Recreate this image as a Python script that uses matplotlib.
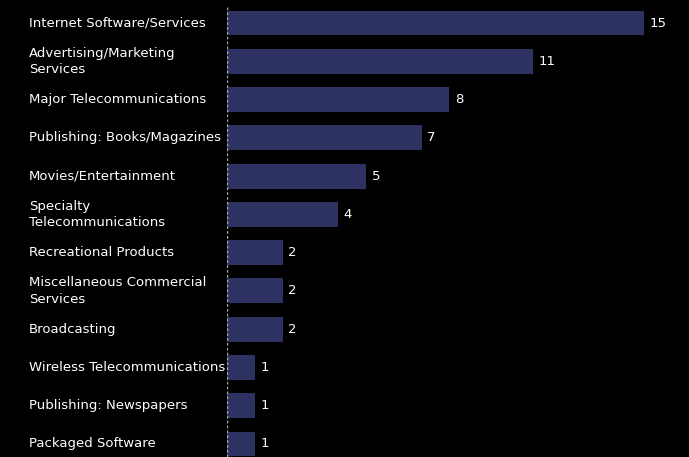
import matplotlib
matplotlib.use("Agg")
import matplotlib.pyplot as plt

categories = [
    "Internet Software/Services",
    "Advertising/Marketing\nServices",
    "Major Telecommunications",
    "Publishing: Books/Magazines",
    "Movies/Entertainment",
    "Specialty\nTelecommunications",
    "Recreational Products",
    "Miscellaneous Commercial\nServices",
    "Broadcasting",
    "Wireless Telecommunications",
    "Publishing: Newspapers",
    "Packaged Software",
]
counts = [15, 11, 8, 7, 5, 4, 2, 2, 2, 1, 1, 1]

bar_color = "#2d3262"

fig = plt.figure(figsize=(6.89, 4.57), dpi=100, facecolor="black")
ax = fig.add_axes([227 / 689, 0, 1 - 227 / 689, 1])
ax.set_facecolor("black")

ypos = list(range(len(categories)))
ax.barh(ypos, counts, height=0.65, color=bar_color)
ax.set_ylim(11.34, -0.601)
ax.set_xlim(0, (689 - 227) / 27.8)

# value labels at the bar ends
for y, v in zip(ypos, counts):
    ax.text(v + 0.2, y, str(v), color="white", va="center", ha="left", fontsize=9.5)

# category labels, left aligned at a fixed position
for y, lab in zip(ypos, categories):
    fig.text(29 / 689, 1 - (23 + y * 38.27) / 457, lab, color="white",
             va="center", ha="left", fontsize=9.5, linespacing=1.35)

ax.axvline(0, color="#aaaaaa", linestyle=(0, (2, 1.5)), linewidth=1, ymax=0.99)

for s in ax.spines.values():
    s.set_visible(False)
ax.set_xticks([])
ax.set_yticks([])

fig.savefig("out.png", facecolor="black")
